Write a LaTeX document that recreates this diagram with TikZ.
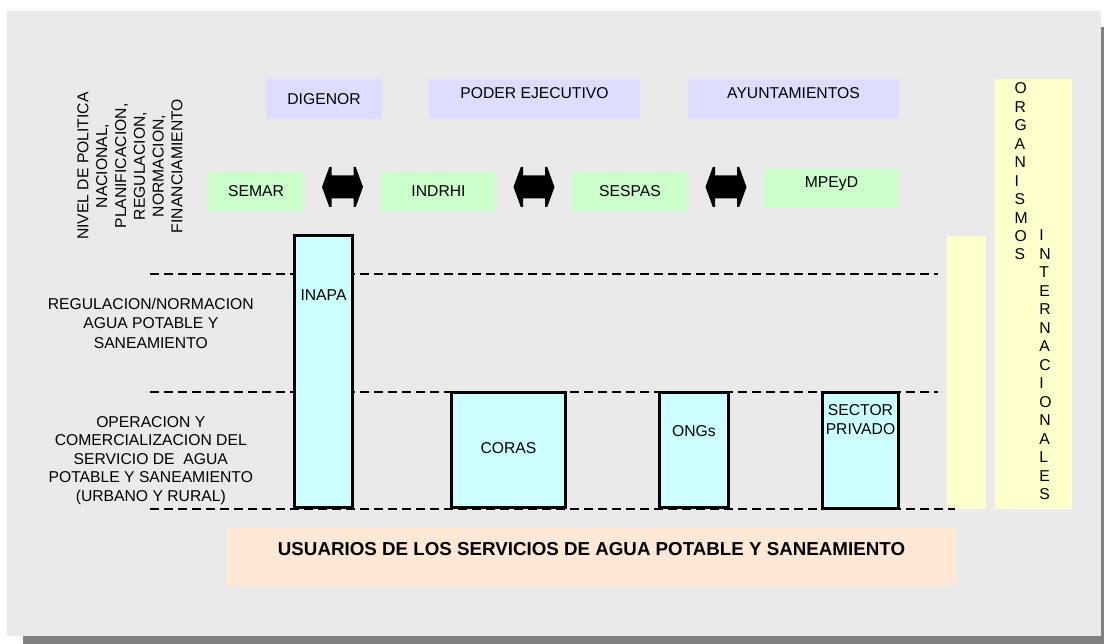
\documentclass[tikz,border=0pt]{standalone}
\usepackage{fontspec}
\setmainfont{Liberation Sans}
\definecolor{bgc}{HTML}{EAEAEA}
\definecolor{shadowc}{HTML}{808080}
\definecolor{lavc}{HTML}{DDDDFF}
\definecolor{greenc}{HTML}{CCFFCC}
\definecolor{cyanc}{HTML}{CCFFFF}
\definecolor{yelc}{HTML}{FFFFCC}
\definecolor{peachc}{HTML}{FFE8D6}
\tikzset{
  txt/.style={inner sep=0pt, outer sep=0pt, font=\fontsize{15.7pt}{18.8pt}\selectfont},
  plainbox/.style={draw=none, inner sep=0pt, outer sep=0pt, font=\fontsize{15.7pt}{18.8pt}\selectfont},
  lavbox/.style={plainbox, fill=lavc},
  greenbox/.style={plainbox, fill=greenc},
  yelbox/.style={plainbox, fill=yelc},
  peachbox/.style={plainbox, fill=peachc},
  cyanbox/.style={plainbox, fill=cyanc, draw=black, line width=2.1pt},
  sepline/.style={line width=2pt, dash pattern=on 9pt off 5pt},
  dblarr/.pic={
    \fill[black] (-20.5,0) -- (-13.2,-20) -- (-11,-20) -- (-11,-11.5) -- (11,-11.5) -- (11,-20)
      -- (13.2,-20) -- (20.5,0) -- (13.2,20) -- (11,20) -- (11,11.5) -- (-11,11.5)
      -- (-11,20) -- (-13.2,20) -- cycle;
  }
}
\begin{document}
\begin{tikzpicture}[x=1pt, y=-1pt]
\useasboundingbox (0,0) rectangle (1104,644);
% background with shadow
\fill[shadowc] (23,27) rectangle (1104,644);
\fill[bgc] (7,11) rectangle (1101,636);

% yellow columns
\node[yelbox, minimum width=39pt, minimum height=273pt] (yel1) at (966.5,372.5) {};
\node[yelbox, minimum width=77pt, minimum height=430pt] (yel2) at (1033.5,294) {};

% dashed separators
\coordinate (s1a) at (150,274); \coordinate (s1b) at (938,274);
\coordinate (s2a) at (150,392); \coordinate (s2b) at (938,392);
\coordinate (s3a) at (150,508.5); \coordinate (s3b) at (955,508.5);
\draw[sepline] (s1a) -- (s1b);
\draw[sepline] (s2a) -- (s2b);
\draw[sepline] (s3a) -- (s3b);

% top row
\node[lavbox, minimum width=116pt, minimum height=40pt] (digenor) at (324,99) {DIGENOR};
\node[lavbox, minimum width=211pt, minimum height=40pt] (poder) at (534.5,99) {};
\node[txt, anchor=base] (podert) at (534.5,98.4) {PODER EJECUTIVO};
\node[lavbox, minimum width=211pt, minimum height=40pt] (ayunt) at (793.5,99) {};
\node[txt, anchor=base] (ayuntt) at (793.5,98.4) {AYUNTAMIENTOS};

% second row
\node[greenbox, minimum width=96pt, minimum height=39pt] (semar) at (256,191.5) {SEMAR};
\node[greenbox, minimum width=115pt, minimum height=39pt] (indrhi) at (438.5,191.5) {INDRHI};
\node[greenbox, minimum width=116pt, minimum height=39pt] (sespas) at (630,191.5) {SESPAS};
\node[greenbox, minimum width=135pt, minimum height=39pt] (mpeyd) at (831.5,188.5) {};
\node[txt, anchor=base] (mpeydt) at (831.5,188) {MPEyD};

\pic (arr1) at (342.5,187) {dblarr};
\pic (arr2) at (534,187) {dblarr};
\pic (arr3) at (726,187) {dblarr};

% cyan boxes
\node[cyanbox, minimum width=58pt, minimum height=272pt] (inapa) at (323.5,371.5) {};
\node[txt, anchor=base] (inapat) at (323.5,301) {INAPA};
\node[cyanbox, minimum width=114pt, minimum height=115pt] (coras) at (508.5,450) {};
\node[txt, anchor=base] (corast) at (508.5,453.6) {CORAS};
\node[cyanbox, minimum width=69pt, minimum height=115pt] (ongs) at (694,450) {};
\node[txt, anchor=base] (ongst) at (694,436) {ONGs};
\node[cyanbox, minimum width=76pt, minimum height=116pt] (sector) at (860.5,450.5) {};
\node[txt, anchor=north, align=center] (sectort) at (860.5,404.8) {SECTOR\\PRIVADO};

% users
\node[peachbox, minimum width=729pt, minimum height=59pt] (usuarios) at (591.5,557.5) {};
\node[txt, anchor=base, font=\fontsize{18.75pt}{22pt}\selectfont\bfseries] (usuariost) at (591.5,555) {USUARIOS DE LOS SERVICIOS DE AGUA POTABLE Y SANEAMIENTO};

% left labels
\node[txt, rotate=90, align=center] (nivel) at (130,166) {NIVEL DE POLITICA\\NACIONAL,\\PLANIFICACION,\\REGULACION,\\NORMACION,\\FINANCIAMIENTO};
\node[txt, anchor=north, align=center, font=\fontsize{15.7pt}{19.2pt}\selectfont] (regul) at (150.8,298.3) {REGULACION/NORMACION\\AGUA POTABLE Y\\SANEAMIENTO};
\node[txt, anchor=north, align=center, font=\fontsize{15.7pt}{18.4pt}\selectfont] (operac) at (150.8,416.5) {OPERACION Y\\COMERCIALIZACION DEL\\SERVICIO DE~ AGUA\\POTABLE Y SANEAMIENTO\\(URBANO Y RURAL)};

% organismos internacionales
\node[txt, anchor=north west, align=left, font=\fontsize{15.7pt}{18.48pt}\selectfont] (organ) at (1014.5,82.7) {O\\R\\G\\A\\N\\I\\S\\M\\O\\S};
\node[txt, anchor=north west, align=left, font=\fontsize{15.7pt}{18.48pt}\selectfont] (intern) at (1039.3,230) {I\\N\\T\\E\\R\\N\\A\\C\\I\\O\\N\\A\\L\\E\\S};
\end{tikzpicture}
\end{document}
